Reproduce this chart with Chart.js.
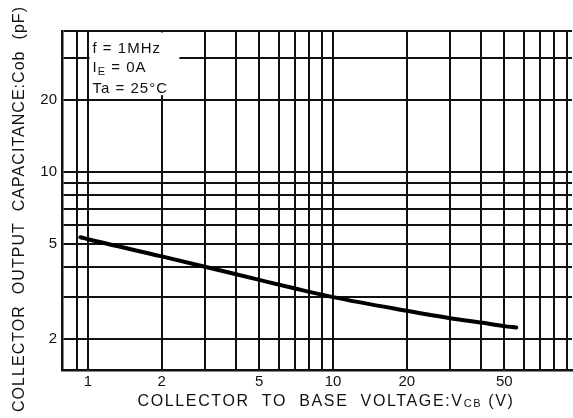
<!DOCTYPE html>
<html>
<head>
<meta charset="utf-8">
<script src="https://cdn.jsdelivr.net/npm/chart.js@4"></script>
<style>
  html, body { margin: 0; padding: 0; background: #fff; }
  #wrap { width: 573px; height: 418px; }
</style>
</head>
<body>
<div id="wrap"><canvas id="cobChart"></canvas></div>
<script>
// Cob vs Vcb curve
const vcb = [0.93, 1, 2, 3, 5, 7, 10, 20, 30, 40, 50, 56];
const cob = [5.33, 5.23, 4.43, 4.01, 3.53, 3.25, 2.99, 2.62, 2.44, 2.34, 2.26, 2.23];

// grid lines and labelled ticks
const xGrid = [0.9, 1, 2, 3, 4, 5, 6, 7, 8, 9, 10, 20, 30, 40, 50, 60, 70, 80, 90];
const xLabels = [1, 2, 5, 10, 20, 50];
const yGrid = [2, 3, 4, 5, 6, 7, 8, 9, 10, 20, 30];
const yLabels = [2, 5, 10, 20];

const ink = '#111';
const font = '"Liberation Sans", Arial, sans-serif';

// draws a row of text pieces (some as subscripts), centred on cx
function drawRuns(ctx, runs, cx, cy, spacing) {
    let total = 0;
    runs.forEach(r => {
        ctx.font = r.font;
        r.w = ctx.measureText(r.text).width + spacing * r.text.length;
        total += r.w;
    });
    let x = cx - total / 2;
    runs.forEach(r => {
        ctx.font = r.font;
        ctx.letterSpacing = spacing + 'px';
        ctx.fillText(r.text, x, cy + (r.dy || 0));
        x += r.w;
    });
    ctx.letterSpacing = '0px';
}

function fitSpacing(ctx, runs, target) {
    let w = 0, n = 0;
    runs.forEach(r => { ctx.font = r.font; w += ctx.measureText(r.text).width; n += r.text.length; });
    return (target - w) / n;
}

const extras = {
    id: 'extras',
    beforeDatasetsDraw(chart) {
        const { ctx, chartArea: a, scales: { x, y } } = chart;
        ctx.save();
        // white box behind the conditions text
        const x0 = x.getPixelForValue(1) + 1.5;
        const x1 = x.getPixelForValue(2.36);
        const y0 = a.top + 1.5;
        const y1 = y.getPixelForValue(21);
        ctx.fillStyle = '#fff';
        ctx.fillRect(x0, y0, x1 - x0, y1 - y0);

        ctx.fillStyle = ink;
        ctx.textBaseline = 'middle';
        ctx.textAlign = 'left';
        ctx.letterSpacing = '1px';
        const tx = x0 + 3;
        const f15 = '15px ' + font;
        ctx.font = f15;
        ctx.fillText('f = 1MHz', tx, a.top + 18);
        ctx.fillText('I', tx, a.top + 37);
        const iw = ctx.measureText('I').width;
        ctx.font = '11px ' + font;
        ctx.fillText('E', tx + iw, a.top + 41);
        const ew = ctx.measureText('E').width;
        ctx.font = f15;
        ctx.fillText(' = 0A', tx + iw + ew, a.top + 37);
        ctx.fillText('Ta = 25\u00b0C', tx, a.top + 58);
        ctx.restore();
    },
    afterDraw(chart) {
        const { ctx } = chart;
        ctx.save();
        ctx.fillStyle = ink;
        ctx.textBaseline = 'middle';
        ctx.textAlign = 'left';

        // x axis title with subscript CB
        const big = '16px ' + font;
        const small = '11px ' + font;
        const xr = [
            { text: 'COLLECTOR  TO  BASE  VOLTAGE:V', font: big },
            { text: 'CB', font: small, dy: 2 },
            { text: ' (V)', font: big }
        ];
        drawRuns(ctx, xr, 326, 402, fitSpacing(ctx, xr, 377));

        // y axis title, rotated
        ctx.translate(19.5, 209);
        ctx.rotate(-Math.PI / 2);
        const yr = [{ text: 'COLLECTOR  OUTPUT  CAPACITANCE:Cob  (pF)', font: '16px ' + font }];
        drawRuns(ctx, yr, 0, 0, fitSpacing(ctx, yr, 406));
        ctx.restore();
    }
};

const ctx = document.getElementById('cobChart').getContext('2d');
new Chart(ctx, {
    type: 'line',
    data: {
        datasets: [{
            data: vcb.map((v, i) => ({ x: v, y: cob[i] })),
            borderColor: '#000',
            borderWidth: 4,
            pointRadius: 0,
            cubicInterpolationMode: 'monotone',
            borderCapStyle: 'round',
            fill: false
        }]
    },
    options: {
        responsive: true,
        maintainAspectRatio: false,
        animation: false,
        layout: { padding: { top: 31, right: 1, left: 0, bottom: 0 } },
        plugins: { legend: { display: false }, tooltip: { enabled: false } },
        scales: {
            x: {
                type: 'logarithmic',
                min: 0.783,
                max: 94.5,
                afterBuildTicks: s => { s.ticks = xGrid.map(v => ({ value: v })); },
                afterFit: s => { s.height = 48; },
                grid: { color: ink, lineWidth: 2, drawTicks: false },
                border: { color: ink, width: 2.5 },
                ticks: {
                    autoSkip: false,
                    maxRotation: 0,
                    padding: 3,
                    color: ink,
                    font: { family: font, size: 15 },
                    callback: v => xLabels.includes(v) ? String(v) : ''
                }
            },
            y: {
                type: 'logarithmic',
                min: 1.48,
                max: 39,
                afterBuildTicks: s => { s.ticks = yGrid.concat([39]).map(v => ({ value: v })); },
                afterFit: s => { s.width = 62; },
                grid: { color: ink, lineWidth: 2, drawTicks: false },
                border: { color: ink, width: 2.5 },
                ticks: {
                    autoSkip: false,
                    padding: 5,
                    color: ink,
                    font: { family: font, size: 15 },
                    callback: v => yLabels.includes(v) ? String(v) : ''
                }
            }
        }
    },
    plugins: [extras]
});
</script>
</body>
</html>
